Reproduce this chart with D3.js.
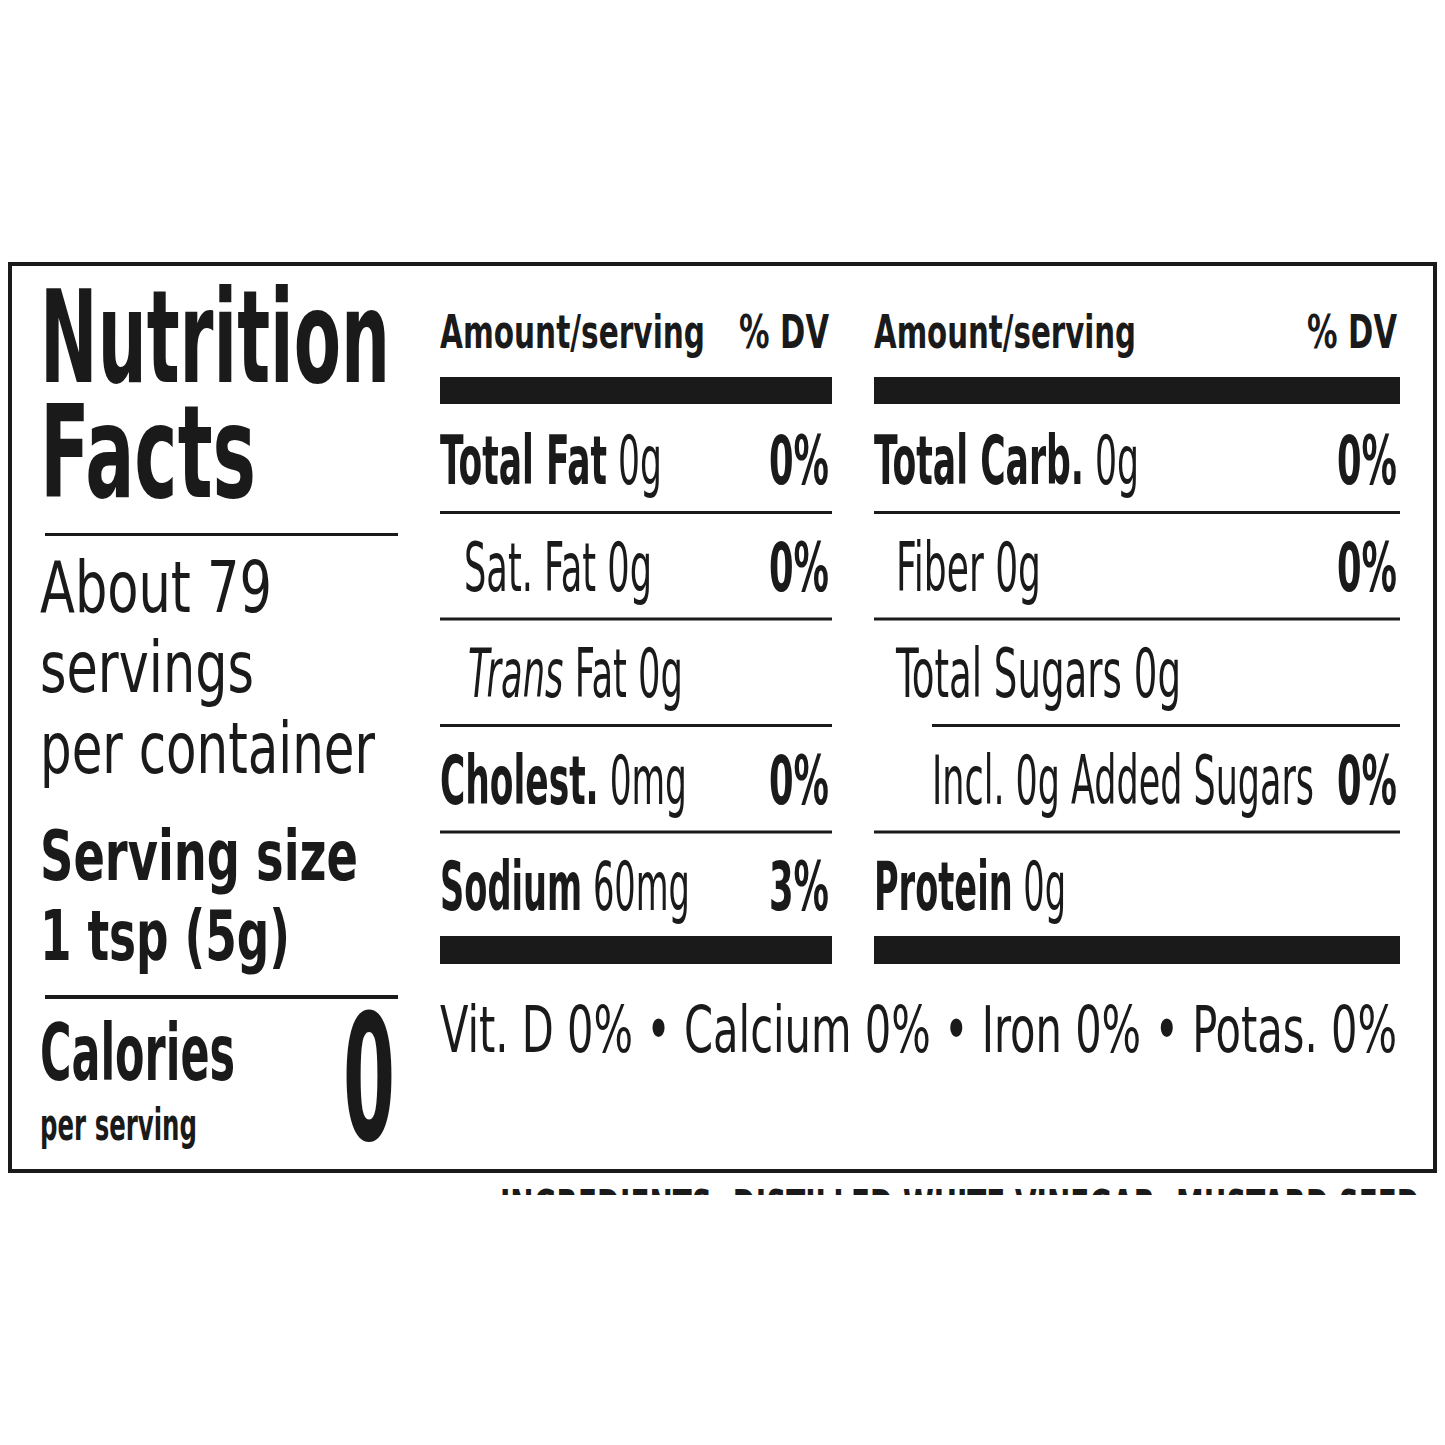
<!DOCTYPE html><html><head><meta charset="utf-8">
<script src="https://cdn.jsdelivr.net/npm/d3@7"></script>
<style>body{margin:0;background:#fff}</style></head><body>
<script>
const leftRows=[{b:"Total Fat",n:" 0g",dv:"0%",ind:0,w:222},{b:"",n:"Sat. Fat 0g",dv:"0%",ind:24,w:188},{b:"",i:"Trans",n:" Fat 0g",dv:"",ind:28,w:215},{b:"Cholest.",n:" 0mg",dv:"0%",ind:0,w:247},{b:"Sodium",n:" 60mg",dv:"3%",ind:0,w:250}];
const rightRows=[{b:"Total Carb.",n:" 0g",dv:"0%",ind:0,w:265},{b:"",n:"Fiber 0g",dv:"0%",ind:22,w:145},{b:"",n:"Total Sugars 0g",dv:"",ind:22,w:285},{b:"",n:"Incl. 0g Added Sugars",dv:"0%",ind:58,w:382},{b:"Protein",n:" 0g",dv:"",ind:0,w:192}];
const lineStart=[[440,440,440,440],[874,874,932,874]];
const vitamins="Vit. D 0% • Calcium 0% • Iron 0% • Potas. 0%";
const svg=d3.select("body").append("svg").attr("width",1445).attr("height",1445);
const F="'Liberation Sans Narrow','DejaVu Sans Condensed','Roboto Condensed',sans-serif";
function t(x,y,s,size,wt,len,anchor){const e=svg.append("text").attr("x",x).attr("y",y).attr("font-family",F).attr("font-size",size).attr("font-weight",wt||"normal").attr("fill","#1a1a1a").attr("text-anchor",anchor||"start").text(s);if(len)e.attr("textLength",len).attr("lengthAdjust","spacingAndGlyphs");return e;}
svg.append("rect").attr("x",10).attr("y",264).attr("width",1425).attr("height",907).attr("fill","none").attr("stroke","#1a1a1a").attr("stroke-width",4);
t(40,382,"Nutrition",128,"bold",350);
t(40,497,"Facts",128,"bold",216);
svg.append("rect").attr("x",45).attr("y",533).attr("width",353).attr("height",3).attr("fill","#1a1a1a");
t(40,612,"About 79",72,null,232);
t(40,692,"servings",72,null,214);
t(40,773,"per container",72,null,335);
t(40,880,"Serving size",70,"bold",318);
t(40,960,"1 tsp (5g)",70,"bold",250);
svg.append("rect").attr("x",45).attr("y",995).attr("width",353).attr("height",4).attr("fill","#1a1a1a");
t(40,1080,"Calories",78,"bold",195);
t(40,1140,"per serving",44,"bold",157);
t(395,1140,"0",175,"bold",52,"end");
const y=d3.scalePoint().domain(d3.range(5)).range([484,910]);
[[leftRows,440,832],[rightRows,874,1400]].forEach(([rows,x0,x1],ci)=>{
  t(x0,348,"Amount/serving",46,"bold",ci?262:265);
  t(x1-3,348,"% DV",46,"bold",90,"end");
  svg.append("rect").attr("x",x0).attr("y",377).attr("width",x1-x0).attr("height",27).attr("fill","#1a1a1a");
  svg.append("rect").attr("x",x0).attr("y",936).attr("width",x1-x0).attr("height",28).attr("fill","#1a1a1a");
  rows.forEach((r,i)=>{
    const e=svg.append("text").attr("x",x0+r.ind).attr("y",y(i)).attr("font-family",F).attr("font-size",68).attr("fill","#1a1a1a").attr("textLength",r.w).attr("lengthAdjust","spacingAndGlyphs");
    if(r.b)e.append("tspan").attr("font-weight","bold").text(r.b);
    if(r.i)e.append("tspan").attr("font-style","italic").text(r.i);
    e.append("tspan").text(r.n);
    if(r.dv)t(x1-3,y(i),r.dv,68,"bold",60,"end");
    if(i<4)svg.append("rect").attr("x",lineStart[ci][i]).attr("y",y(i)+27).attr("width",x1-lineStart[ci][i]).attr("height",3).attr("fill","#1a1a1a");
  });
});
t(440,1052,vitamins,64,null,957);
svg.append("clipPath").attr("id","c").append("rect").attr("x",0).attr("y",1186).attr("width",1445).attr("height",9);
t(500,1222,"INGREDIENTS: DISTILLED WHITE VINEGAR, MUSTARD SEED",44,"bold",920).attr("clip-path","url(#c)");
</script></body></html>
